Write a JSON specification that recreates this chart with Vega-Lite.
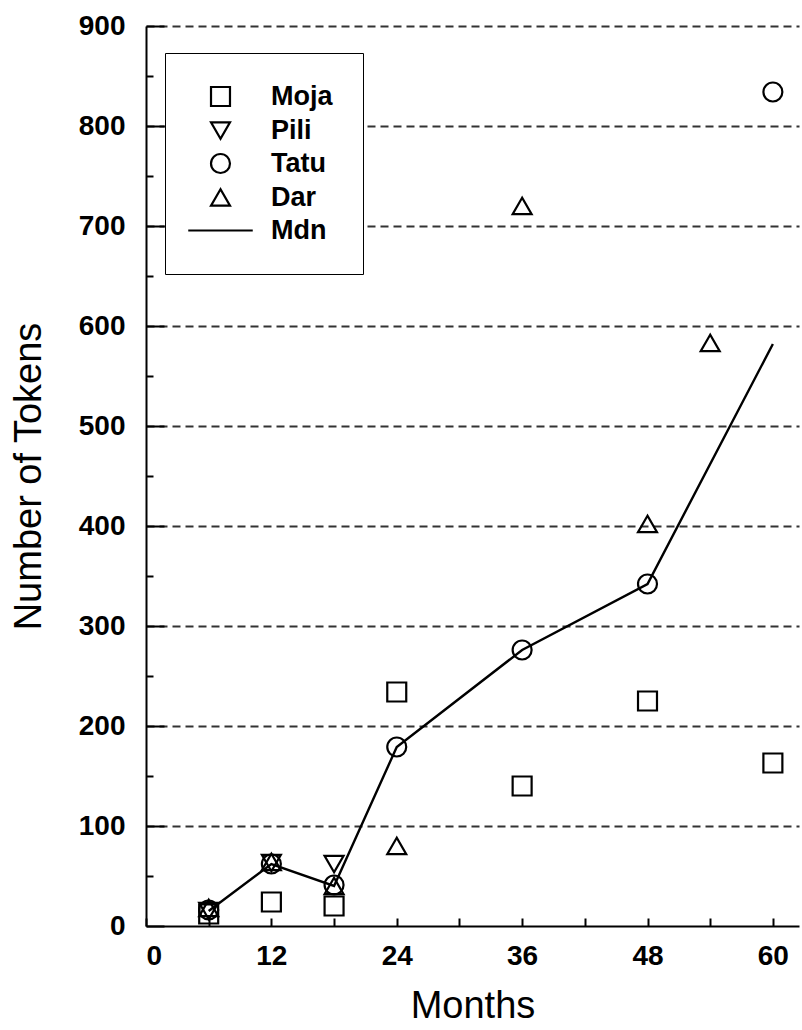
{
  "$schema": "https://vega.github.io/schema/vega-lite/v6.json",
  "width": 653,
  "height": 900,
  "autosize": {"type": "none"},
  "padding": {"left": 146, "top": 26, "right": 3, "bottom": 104},
  "background": "white",
  "config": {"view": {"stroke": null}, "font": "Liberation Sans"},
  "datasets": {
    "points": [
      {"month": 6, "series": "Moja", "tokens": 12},
      {"month": 12, "series": "Moja", "tokens": 24},
      {"month": 18, "series": "Moja", "tokens": 20},
      {"month": 24, "series": "Moja", "tokens": 234},
      {"month": 36, "series": "Moja", "tokens": 140},
      {"month": 48, "series": "Moja", "tokens": 225},
      {"month": 60, "series": "Moja", "tokens": 163},
      {"month": 6, "series": "Pili", "tokens": 15},
      {"month": 12, "series": "Pili", "tokens": 63},
      {"month": 18, "series": "Pili", "tokens": 62},
      {"month": 6, "series": "Tatu", "tokens": 16},
      {"month": 12, "series": "Tatu", "tokens": 62},
      {"month": 18, "series": "Tatu", "tokens": 41},
      {"month": 24, "series": "Tatu", "tokens": 179},
      {"month": 36, "series": "Tatu", "tokens": 276},
      {"month": 48, "series": "Tatu", "tokens": 342},
      {"month": 60, "series": "Tatu", "tokens": 834},
      {"month": 6, "series": "Dar", "tokens": 18},
      {"month": 12, "series": "Dar", "tokens": 64},
      {"month": 18, "series": "Dar", "tokens": 40},
      {"month": 24, "series": "Dar", "tokens": 80},
      {"month": 36, "series": "Dar", "tokens": 720},
      {"month": 48, "series": "Dar", "tokens": 402},
      {"month": 54, "series": "Dar", "tokens": 583}
    ],
    "median": [
      {"month": 6, "series": "Mdn", "tokens": 15},
      {"month": 12, "series": "Mdn", "tokens": 62},
      {"month": 18, "series": "Mdn", "tokens": 40},
      {"month": 24, "series": "Mdn", "tokens": 179},
      {"month": 36, "series": "Mdn", "tokens": 276},
      {"month": 48, "series": "Mdn", "tokens": 342},
      {"month": 60, "series": "Mdn", "tokens": 582}
    ]
  },
  "layer": [
    {
      "data": {"name": "median"},
      "mark": {"type": "line", "color": "black", "strokeWidth": 2.4},
      "encoding": {
        "x": {
          "field": "month",
          "type": "quantitative",
          "scale": {"domain": [0, 62.5], "nice": false, "zero": true},
          "axis": {
            "title": "Months",
            "values": [0, 6, 12, 18, 24, 30, 36, 42, 48, 54, 60],
            "labelExpr": "datum.value % 12 === 0 ? datum.label : ''",
            "labelOverlap": false,
            "labelFontSize": 28,
            "labelFontWeight": "bold",
            "labelColor": "black",
            "labelPadding": 24,
            "titleFontSize": 38,
            "titleFontWeight": "normal",
            "titleColor": "black",
            "titlePadding": 17,
            "domainColor": "black",
            "domainWidth": 2,
            "tickColor": "black",
            "tickWidth": 2,
            "tickSize": -8,
            "grid": false
          }
        },
        "y": {
          "field": "tokens",
          "type": "quantitative",
          "scale": {"domain": [0, 900], "nice": false},
          "axis": {
            "title": "Number of Tokens",
            "values": [0, 50, 100, 150, 200, 250, 300, 350, 400, 450, 500, 550, 600, 650, 700, 750, 800, 850, 900],
            "labelExpr": "datum.value % 100 === 0 ? datum.label : ''",
            "labelOverlap": false,
            "labelFontSize": 28,
            "labelFontWeight": "bold",
            "labelColor": "black",
            "labelPadding": 39,
            "titleFontSize": 38,
            "titleFontWeight": "normal",
            "titleColor": "black",
            "titlePadding": 30,
            "domainColor": "black",
            "domainWidth": 2,
            "tickColor": "black",
            "tickWidth": 2,
            "tickSize": {"condition": {"test": "datum.value % 100 === 0", "value": -18}, "value": -7},
            "grid": true,
            "gridColor": "#333333",
            "gridWidth": 1.8,
            "gridDash": [8, 5],
            "gridOpacity": {"condition": {"test": "datum.value % 100 === 0 && datum.value > 0", "value": 1}, "value": 0}
          }
        }
      }
    },
    {
      "data": {"name": "points"},
      "mark": {"type": "point", "filled": false, "stroke": "black", "strokeWidth": 2.2, "size": 360, "opacity": 1},
      "encoding": {
        "x": {"field": "month", "type": "quantitative"},
        "y": {"field": "tokens", "type": "quantitative"},
        "shape": {
          "field": "series",
          "type": "nominal",
          "scale": {
            "domain": ["Moja", "Pili", "Tatu", "Dar", "Mdn"],
            "range": ["square", "triangle-down", "circle", "triangle-up", "M-3.4,0L3.4,0"]
          },
          "legend": {
            "title": null,
            "orient": "none",
            "legendX": 19,
            "legendY": 27,
            "strokeColor": "black",
            "fillColor": "white",
            "padding": 30,
            "labelFontSize": 27,
            "labelFontWeight": "bold",
            "labelColor": "black",
            "labelOffset": 37,
            "symbolOffset": 12,
            "symbolSize": 360,
            "symbolStrokeColor": "black",
            "symbolFillColor": "white",
            "symbolStrokeWidth": 2.2,
            "symbolOpacity": 1,
            "rowPadding": 5
          }
        }
      }
    }
  ]
}
